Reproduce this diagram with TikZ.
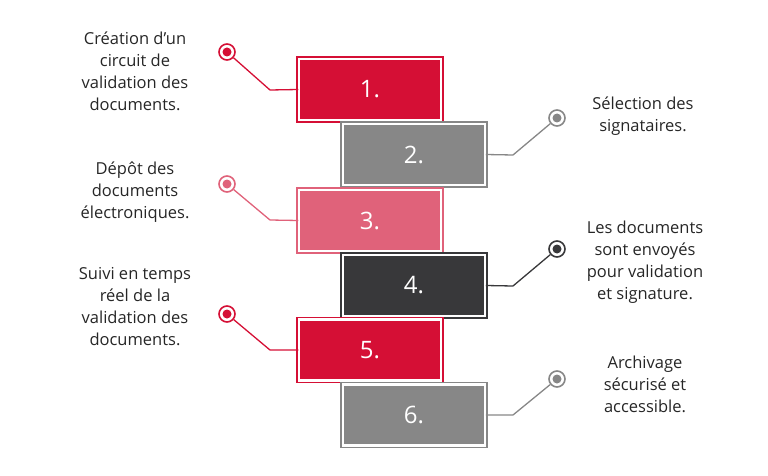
\documentclass[tikz,border=0pt]{standalone}
\usepackage{fontspec}
\setmainfont{Open Sans}
\definecolor{cred}{HTML}{D50F35}
\definecolor{cgray}{HTML}{878787}
\definecolor{cpink}{HTML}{E0627A}
\definecolor{cdark}{HTML}{38383A}
\begin{document}
\begin{tikzpicture}[x=1pt,y=-1pt,
 box/.style={draw=#1,fill=#1,line width=1.5pt,double=white,double distance=2.5pt,minimum width=142pt,minimum height=61pt,inner sep=0pt,font=\fontsize{24}{24}\selectfont,text=white},
 dot/.style={circle,draw=#1,line width=1.6pt,fill=white,minimum size=16pt,inner sep=0pt,path picture={\fill[#1] (path picture bounding box.center) circle (4.5pt);}},
 con/.style={draw=#1,line width=1.3pt},
 txt/.style={align=center,font=\fontsize{16.5}{22}\selectfont,text=black!85}]
\useasboundingbox (0,0) rectangle (768,476);
\node[box=cred] (b1) at (370,89.5) {1.};
\node[box=cgray] (b2) at (414,154.5) {2.};
\node[box=cpink] (b3) at (370,220.5) {3.};
\node[box=cdark] (b4) at (414,285.5) {4.};
\node[box=cred] (b5) at (370,350) {5.};
\node[box=cgray] (b6) at (414,415) {6.};
\node[dot=cred] (d1) at (227,52) {};
\node[dot=cgray] (d2) at (557,118) {};
\node[dot=cpink] (d3) at (227,184) {};
\node[dot=cdark] (d4) at (557,249) {};
\node[dot=cred] (d5) at (227,314) {};
\node[dot=cgray] (d6) at (557,379) {};
\coordinate (k1) at (270,90); \coordinate (k2) at (513,155);
\coordinate (k3) at (270,220); \coordinate (k4) at (513,286);
\coordinate (k5) at (270,350); \coordinate (k6) at (513,415);
\draw[con=cred] (d1) -- (k1) -- (b1.west);
\draw[con=cgray] (d2) -- (k2) -- (b2.east);
\draw[con=cpink] (d3) -- (k3) -- (b3.west);
\draw[con=cdark] (d4) -- (k4) -- (b4.east);
\draw[con=cred] (d5) -- (k5) -- (b5.west);
\draw[con=cgray] (d6) -- (k6) -- (b6.east);
\node[txt] (t1) at (135,71) {Création d’un\\circuit de\\validation des\\documents.};
\node[txt] (t2) at (643,116) {Sélection des\\signataires.};
\node[txt] (t3) at (135,192) {Dépôt des\\documents\\électroniques.};
\node[txt] (t4) at (645,262) {Les documents\\sont envoyés\\pour validation\\et signature.};
\node[txt] (t5) at (135,307) {Suivi en temps\\réel de la\\validation des\\documents.};
\node[txt] (t6) at (645,384) {Archivage\\sécurisé et\\accessible.};
\end{tikzpicture}
\end{document}
